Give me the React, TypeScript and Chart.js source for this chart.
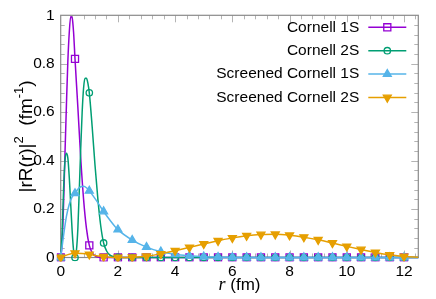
import React, { useEffect, useRef } from 'react';
import { Chart, registerables } from 'chart.js';
import { drawPoint } from 'chart.js/helpers';

Chart.register(...registerables);

const FONT = '"Liberation Sans", Arial, sans-serif';

const SERIES_NAMES = ['Cornell 1S', 'Cornell 2S', 'Screened Cornell 1S', 'Screened Cornell 2S'];
const COLORS = ['#9400d3', '#009e73', '#56b4e9', '#e69f00'];
const POINT_STYLES = ['rect', 'circle', 'triangle', 'triangle'];
const POINT_ROTATIONS = [0, 0, 0, 180];
const POINT_RADII = [5, 3.2, 4.6, 4.6];
const POINT_FILLED = [false, false, true, true];

// Cornell 1S
const R_C1S = [0, 0.05, 0.1, 0.15, 0.2, 0.25, 0.3, 0.35, 0.4, 0.45, 0.5, 0.6, 0.7, 0.8, 0.9, 1.0, 1.1, 1.2, 1.3, 1.4, 1.5,
  2, 2.5, 3, 3.5, 4, 4.5, 5, 5.5, 6, 6.5, 7, 7.5, 8, 8.5, 9, 9.5, 10, 10.5, 11, 11.5, 12, 12.5];
const V_C1S = [0, 0.06, 0.22, 0.43, 0.63, 0.81, 0.93, 0.995, 0.99, 0.93, 0.82, 0.62, 0.41, 0.24, 0.12, 0.05, 0.02, 0.007, 0.002, 0.0005, 0,
  0, 0, 0, 0, 0, 0, 0, 0, 0, 0, 0, 0, 0, 0, 0, 0, 0, 0, 0, 0, 0, 0];

// Cornell 2S
const R_C2S = [0, 0.05, 0.1, 0.15, 0.2, 0.25, 0.3, 0.35, 0.4, 0.45, 0.5, 0.55, 0.6, 0.65, 0.7, 0.75, 0.8, 0.85, 0.9, 0.95, 1.0,
  1.1, 1.2, 1.3, 1.4, 1.5, 1.6, 1.7, 1.8, 1.9, 2.0,
  2.5, 3, 3.5, 4, 4.5, 5, 5.5, 6, 6.5, 7, 7.5, 8, 8.5, 9, 9.5, 10, 10.5, 11, 11.5, 12, 12.5];
const V_C2S = [0, 0.1, 0.28, 0.4, 0.43, 0.41, 0.33, 0.22, 0.11, 0.03, 0, 0.03, 0.12, 0.28, 0.45, 0.6, 0.7, 0.74, 0.74, 0.72, 0.68,
  0.54, 0.38, 0.24, 0.13, 0.06, 0.028, 0.012, 0.005, 0.002, 0.001,
  0, 0, 0, 0, 0, 0, 0, 0, 0, 0, 0, 0, 0, 0, 0, 0, 0, 0, 0, 0, 0];

// Screened Cornell 1S
const R_S1S = [0, 0.1, 0.2, 0.3, 0.4, 0.5, 0.6, 0.7, 0.8, 0.9, 1.0, 1.25, 1.5, 1.75, 2.0, 2.5, 3, 3.5, 4, 4.5, 5, 5.5, 6,
  6.5, 7, 7.5, 8, 8.5, 9, 9.5, 10, 10.5, 11, 11.5, 12, 12.5];
const V_S1S = [0, 0.09, 0.17, 0.22, 0.25, 0.265, 0.282, 0.292, 0.294, 0.288, 0.275, 0.235, 0.19, 0.15, 0.115, 0.072, 0.043, 0.024, 0.013, 0.007, 0.003, 0.0015, 0.0007,
  0, 0, 0, 0, 0, 0, 0, 0, 0, 0, 0, 0, 0];

// Screened Cornell 2S
const R_S2S = [0, 0.25, 0.5, 0.75, 1.0, 1.25, 1.5, 1.75, 2.0, 2.25, 2.5, 3, 3.5, 4, 4.5, 5, 5.5, 6, 6.5, 7, 7.5, 8, 8.5,
  9, 9.5, 10, 10.5, 11, 11.5, 12, 12.5];
const V_S2S = [0, 0.012, 0.018, 0.017, 0.013, 0.007, 0.003, 0.0008, 0, 0.0003, 0.001, 0.005, 0.015, 0.028, 0.042, 0.056, 0.069, 0.081, 0.09, 0.095, 0.096, 0.092, 0.084,
  0.073, 0.06, 0.046, 0.033, 0.021, 0.011, 0.004, 0.001];

const SERIES_R = [R_C1S, R_C2S, R_S1S, R_S2S];
const SERIES_V = [V_C1S, V_C2S, V_S1S, V_S2S];

const X_MIN = 0;
const X_MAX = 12.5;
const X_STEP = 2;
const X_MINOR = 0.4;
const Y_MIN = 0;
const Y_MAX = 1;
const Y_STEP = 0.2;
const Y_MINOR = 0.04;
const MARKER_STEP = 0.5;
const MARKER_LAST = 12;

const isMarker = (x: number) => {
  const k = x / MARKER_STEP;
  return Math.abs(k - Math.round(k)) < 1e-6 && x <= MARKER_LAST + 1e-9;
};

const framePlugin = {
  id: 'frame',
  beforeDatasetsDraw(chart: any) {
    const { ctx, chartArea: a, scales } = chart;
    const xs = scales.x;
    const ys = scales.y;
    ctx.save();
    ctx.lineWidth = 1;
    ctx.strokeStyle = '#b4b4b4';
    ctx.beginPath();
    const nx = Math.round((X_MAX - X_MIN) / X_MINOR);
    for (let i = 1; i <= nx; i++) {
      const v = X_MIN + i * X_MINOR;
      if (v >= X_MAX - 1e-9) break;
      const major = i % Math.round(X_STEP / X_MINOR) === 0;
      const len = major ? 7 : 4;
      const px = Math.round(xs.getPixelForValue(v)) + 0.5;
      ctx.moveTo(px, a.bottom);
      ctx.lineTo(px, a.bottom - len);
      ctx.moveTo(px, a.top);
      ctx.lineTo(px, a.top + len);
    }
    const ny = Math.round((Y_MAX - Y_MIN) / Y_MINOR);
    for (let i = 1; i < ny; i++) {
      const v = Y_MIN + i * Y_MINOR;
      const major = i % Math.round(Y_STEP / Y_MINOR) === 0;
      const len = major ? 7 : 4;
      const py = Math.round(ys.getPixelForValue(v)) + 0.5;
      ctx.moveTo(a.left, py);
      ctx.lineTo(a.left + len, py);
      ctx.moveTo(a.right, py);
      ctx.lineTo(a.right - len, py);
    }
    ctx.stroke();
    ctx.strokeStyle = '#8a8a8a';
    ctx.lineWidth = 1.2;
    ctx.strokeRect(a.left, a.top, a.right - a.left, a.bottom - a.top);
    ctx.restore();
  },
  afterDatasetsDraw(chart: any) {
    const { ctx, chartArea: a } = chart;
    ctx.save();
    // legend
    ctx.font = `15.5px ${FONT}`;
    ctx.textAlign = 'right';
    ctx.textBaseline = 'middle';
    chart.data.datasets.forEach((ds: any, i: number) => {
      const y = a.top + 12 + i * 23.4;
      ctx.fillStyle = '#000';
      ctx.fillText(ds.label, a.right - 59, y);
      ctx.strokeStyle = COLORS[i];
      ctx.lineWidth = 1.5;
      ctx.beginPath();
      ctx.moveTo(a.right - 50, y);
      ctx.lineTo(a.right - 12, y);
      ctx.stroke();
      ctx.fillStyle = POINT_FILLED[i] ? COLORS[i] : 'rgba(0,0,0,0)';
      ctx.lineWidth = 1.3;
      drawPoint(ctx, { pointStyle: POINT_STYLES[i], radius: POINT_RADII[i], rotation: POINT_ROTATIONS[i], borderWidth: 1.3 } as any, a.right - 31, y);
    });

    // x axis title: italic r (fm)
    ctx.textBaseline = 'alphabetic';
    ctx.textAlign = 'left';
    ctx.fillStyle = '#000';
    const f1 = `italic 18px "Liberation Serif", serif`;
    const f2 = `17px ${FONT}`;
    ctx.font = f1;
    const w1 = ctx.measureText('r').width;
    ctx.font = f2;
    const w2 = ctx.measureText(' (fm)').width;
    const cx = (a.left + a.right) / 2;
    const x0 = cx - (w1 + w2) / 2;
    const by = a.bottom + 32;
    ctx.font = f1;
    ctx.fillText('r', x0, by);
    ctx.font = f2;
    ctx.fillText(' (fm)', x0 + w1, by);

    // y axis title: |rR(r)|^2 (fm^-1)
    const main = `19px ${FONT}`;
    const sup = `13px ${FONT}`;
    const segs = [
      { t: '|rR(r)|', f: main, dy: 0 },
      { t: '2', f: sup, dy: -9 },
      { t: '  (fm', f: main, dy: 0 },
      { t: '-1', f: sup, dy: -9 },
      { t: ')', f: main, dy: 0 },
    ];
    let total = 0;
    const widths = segs.map((s) => {
      ctx.font = s.f;
      const w = ctx.measureText(s.t).width;
      total += w;
      return w;
    });
    ctx.translate(32, (a.top + a.bottom) / 2);
    ctx.rotate(-Math.PI / 2);
    let px = -total / 2;
    segs.forEach((s, i) => {
      ctx.font = s.f;
      ctx.fillText(s.t, px, s.dy);
      px += widths[i];
    });
    ctx.restore();
  },
};

export default function App() {
  const ref = useRef<HTMLCanvasElement>(null);
  useEffect(() => {
    if (!ref.current) return;
    const datasets = SERIES_NAMES.map((name, i) => ({
      label: name,
      data: SERIES_R[i].map((r, j) => ({ x: r, y: SERIES_V[i][j] })),
      borderColor: COLORS[i],
      backgroundColor: COLORS[i],
      borderWidth: 1.5,
      cubicInterpolationMode: 'monotone' as const,
      pointStyle: POINT_STYLES[i],
      pointRotation: POINT_ROTATIONS[i],
      pointBorderColor: COLORS[i],
      pointBackgroundColor: POINT_FILLED[i] ? COLORS[i] : 'rgba(0,0,0,0)',
      pointBorderWidth: 1.3,
      pointRadius: (c: any) => (c.raw && isMarker(c.raw.x) ? POINT_RADII[i] : 0),
      pointHoverRadius: (c: any) => (c.raw && isMarker(c.raw.x) ? POINT_RADII[i] : 0),
      order: SERIES_NAMES.length - i,
      clip: 4,
    }));
    const chart = new Chart(ref.current, {
      type: 'line',
      data: { datasets },
      options: {
        animation: false,
        responsive: false,
        devicePixelRatio: 1,
        layout: { padding: { top: 12.5, right: 17.7, left: 0, bottom: 0 } },
        plugins: { legend: { display: false }, tooltip: { enabled: false } },
        events: [],
        scales: {
          x: {
            type: 'linear',
            min: X_MIN,
            max: X_MAX,
            afterFit: (s: any) => { s.height = 41.5; },
            grid: { display: false, drawTicks: false },
            border: { display: false },
            ticks: {
              stepSize: X_STEP,
              includeBounds: false,
              padding: 5,
              color: '#000',
              maxRotation: 0,
              autoSkip: false,
              font: { family: FONT, size: 15.5 },
            },
          },
          y: {
            type: 'linear',
            min: Y_MIN,
            max: Y_MAX,
            afterFit: (s: any) => { s.width = 60.7; },
            grid: { display: false, drawTicks: false },
            border: { display: false },
            ticks: {
              stepSize: Y_STEP,
              padding: 6,
              color: '#000',
              font: { family: FONT, size: 15.5 },
              callback: (v: any) => String(Math.round(Number(v) * 100) / 100),
            },
          },
        },
      },
      plugins: [framePlugin],
    });
    return () => chart.destroy();
  }, []);
  return (
    <div style={{ position: 'fixed', left: 0, top: 0, width: 436, height: 299, background: '#fff' }}>
      <canvas ref={ref} width={436} height={299} style={{ display: 'block', width: 436, height: 299 }} />
    </div>
  );
}
